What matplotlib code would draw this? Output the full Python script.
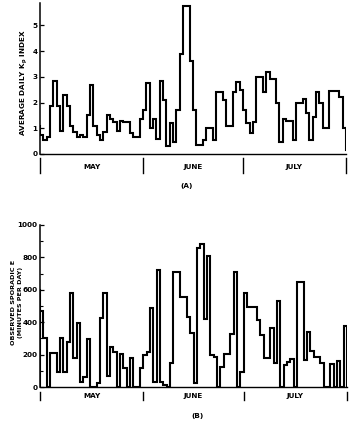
import matplotlib
matplotlib.use("Agg")
import matplotlib.pyplot as plt
import matplotlib.transforms as mtransforms
import numpy as np

# ---------------- data (daily values, May 1 - July 31) ----------------
months = ["MAY", "JUNE", "JULY"]
month_days = [31, 30, 31]

kp_may = [0.75, 0.55, 0.65, 1.85, 2.85, 1.85, 0.9, 2.3, 1.85, 1.1, 0.85, 0.65, 0.75,
          0.65, 1.5, 2.7, 1.1, 0.75, 0.55, 0.85, 1.5, 1.35, 1.25, 0.9, 1.3, 1.25,
          1.25, 0.8, 0.65, 0.65, 1.35]
kp_june = [1.7, 2.75, 1.0, 1.35, 0.6, 2.85, 2.1, 0.3, 1.2, 0.45, 1.7, 3.9, 5.75,
           5.75, 3.6, 1.7, 0.35, 0.35, 0.55, 1.0, 1.0, 0.55, 2.4, 2.4, 2.1, 1.1,
           1.1, 2.4, 2.8, 2.5]
kp_july = [1.7, 1.2, 0.8, 1.24, 3.0, 3.0, 2.4, 3.2, 2.9, 2.9, 2.0, 0.47, 1.35, 1.3,
           1.3, 0.55, 1.97, 1.97, 2.15, 1.6, 0.55, 1.45, 2.4, 2.0, 1.0, 1.0, 2.45,
           2.45, 2.45, 2.2, 1.0]
kp_start = 1.1
kp_end = 0.15

es_may = [470, 303, 0, 210, 210, 93, 303, 93, 280, 580, 180, 396, 30, 62, 297, 0,
          0, 25, 427, 580, 70, 248, 217, 0, 204, 118, 0, 180, 0, 0, 118]
es_june = [198, 217, 490, 30, 724, 30, 10, 0, 150, 712, 712, 557, 557, 433, 334,
           25, 855, 885, 421, 811, 200, 186, 0, 124, 204, 204, 328, 712, 0, 93]
es_july = [580, 495, 495, 495, 415, 322, 180, 180, 365, 149, 532, 0, 136, 155, 173,
           0, 650, 650, 167, 340, 220, 186, 186, 150, 0, 0, 143, 0, 161, 0, 378]
es_start = 600

kp_yticks = [0, 1, 2, 3, 4, 5]
es_yticks = [0, 200, 400, 600, 800, 1000]

# ---------------- figure ----------------
kp = np.array(kp_may + kp_june + kp_july)
es = np.array(es_may + es_june + es_july)
ndays = sum(month_days)
edges = np.arange(ndays + 1)
month_edges = np.concatenate([[0], np.cumsum(month_days)])
month_centers = (month_edges[:-1] + month_edges[1:]) / 2.0

W, H = 361, 422
fig = plt.figure(figsize=(W / 100, H / 100), dpi=100)
fig.patch.set_facecolor("white")

FS = 5.2
font = dict(family="DejaVu Sans", fontweight="bold", fontsize=FS)

axA = fig.add_axes([40 / W, 1 - 154 / H, 306 / W, 151 / H])
axB = fig.add_axes([40 / W, 1 - 387 / H, 307 / W, 162 / H])


def style(ax, yticks, ylim):
    for s in ["top", "right"]:
        ax.spines[s].set_visible(False)
    ax.spines["left"].set_linewidth(1.1)
    ax.spines["bottom"].set_linewidth(1.0)
    ax.set_xlim(0, ndays)
    ax.set_ylim(*ylim)
    ax.set_xticks([])
    ax.set_yticks(yticks)
    ax.set_yticklabels([str(t) for t in yticks], **font)
    ax.tick_params(axis="y", direction="in", length=3, width=0.9, pad=2)


# Panel A
axA.stairs(kp, edges, baseline=None, color="black", lw=1.5)
axA.plot([0, 0], [kp_start, kp[0]], color="black", lw=1.5)
axA.plot([ndays, ndays], [kp[-1], kp_end], color="black", lw=1.5)
style(axA, kp_yticks, (0, 5.875))
fig.text(24 / W, 1 - 83 / H, "AVERAGE DAILY K$_\\mathregular{p}$ INDEX",
         rotation=90, ha="center", va="center", **font)

# Panel B
axB.stairs(es, edges, baseline=0, color="black", lw=1.5)
axB.plot([0, 0], [es_start, es[0]], color="black", lw=1.5)
style(axB, es_yticks, (0, 1000))
axB.set_yticks(np.arange(100, 1000, 200), minor=True)
axB.tick_params(axis="y", which="minor", direction="in", length=2, width=0.8)
fig.text(17 / W, 1 - 302 / H, "OBSERVED SPORADIC E\n(MINUTES PER DAY)",
         rotation=90, ha="center", va="center", linespacing=1.3,
         family="DejaVu Sans", fontweight="bold", fontsize=4.6)

# month dividers and labels
for ax, y0, y1, ylab in [(axA, -0.026, -0.126, -0.086), (axB, -0.031, -0.080, -0.056)]:
    tr = mtransforms.blended_transform_factory(ax.transData, ax.transAxes)
    for x in month_edges:
        ax.plot([x, x], [y0, y1], transform=tr, clip_on=False, color="black", lw=1.0)
    for name, xc in zip(months, month_centers):
        ax.text(xc, ylab, name, transform=tr, ha="center", va="center", **font)

fig.text(187 / W, 1 - 186 / H, "(A)", ha="center", va="center", **font)
fig.text(198 / W, 1 - 416 / H, "(B)", ha="center", va="center", **font)

fig.savefig("out.png", dpi=100, facecolor="white")
